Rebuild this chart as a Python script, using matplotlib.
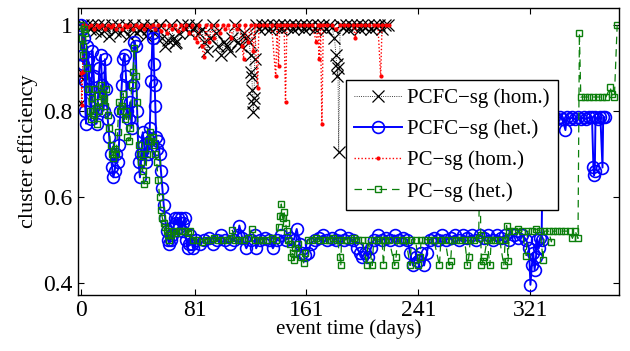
import matplotlib
matplotlib.use("Agg")
import matplotlib.pyplot as plt

plt.rcParams['font.family'] = ['Liberation Serif', 'DejaVu Serif']

# PCFC-sg (hom.)  black x, dotted
pcfc_hom_t = [0, 0.5, 1, 1.5, 4, 6, 8, 10, 12, 14, 16, 18, 20, 22, 24, 26, 28, 30, 32, 34,
              36, 38, 40, 42, 44, 46, 48, 50, 52, 54, 56, 58, 60, 62, 64, 66, 67, 68, 70, 72,
              74, 76, 78, 80, 82, 84, 86, 88, 90, 92, 94, 96, 98, 100, 102, 104, 106, 108, 110, 112,
              114, 116, 118, 120, 121, 121.5, 122, 122.3, 122.6, 123, 123.5, 124, 125, 127, 129, 131, 133, 135, 137, 139,
              141, 143, 145, 147, 149, 151, 153, 155, 157, 159, 161, 163, 165, 167, 169, 171, 173, 175, 177, 179,
              181, 182, 182.5, 183, 183.5, 184, 185, 187, 189, 191, 193, 195, 197, 199, 201, 203, 205, 207, 209, 211,
              213, 215, 217, 219]
pcfc_hom_v = [0.818, 0.887, 0.875, 1.0, 1.0, 0.99, 1.0, 0.985, 1.0, 0.98, 1.0, 0.99, 0.975, 1.0, 0.985, 1.0, 0.98, 0.99, 1.0, 0.975,
              0.99, 1.0, 0.98, 0.99, 1.0, 0.975, 0.99, 1.0, 0.98, 0.99, 1.0, 0.97, 0.95, 0.965, 1.0, 0.97, 0.957, 0.96, 0.98, 1.0,
              0.99, 1.0, 0.98, 0.99, 1.0, 0.98, 0.99, 0.96, 0.94, 0.97, 1.0, 0.98, 0.95, 0.93, 0.96, 0.95, 0.94, 0.97, 1.0, 0.96,
              0.95, 0.98, 0.97, 0.96, 0.93, 0.89, 0.878, 0.848, 0.818, 0.797, 0.83, 0.92, 1.0, 0.99, 1.0, 0.995, 1.0, 0.99, 1.0, 0.995,
              1.0, 0.99, 1.0, 0.995, 1.0, 0.99, 1.0, 0.995, 1.0, 0.99, 1.0, 0.995, 1.0, 0.99, 1.0, 0.995, 1.0, 0.99, 1.0, 0.995,
              0.97, 0.93, 0.91, 0.88, 0.90, 0.704, 1.0, 0.995, 1.0, 0.99, 1.0, 0.995, 1.0, 0.99, 1.0, 0.995, 1.0, 0.99, 1.0, 0.995,
              1.0, 0.99, 1.0, 1.0]

# PCFC-sg (het.)  blue o, solid
pcfc_het_t = [0, 0.5, 1, 1.5, 2, 2.5, 3, 3.5, 4, 5, 6, 7, 8, 9, 10, 11, 12, 13, 14, 15,
              16, 17, 18, 19, 20, 21, 22, 23, 24, 25, 26, 27, 28, 29, 30, 31, 32, 33, 34, 35,
              36, 37, 38, 39, 40, 41, 42, 43, 44, 45, 46, 47, 48, 49, 50, 51, 51.5, 52, 52.5, 53,
              53.5, 54, 55, 56, 57, 58, 59, 60, 61, 62, 63, 64, 65, 66, 67, 68, 69, 70, 71, 72,
              73, 74, 75, 76, 77, 78, 79, 80, 82, 85, 88, 91, 94, 97, 100, 103, 106, 109, 112, 113,
              115, 118, 121, 124, 125, 128, 131, 134, 137, 140, 143, 146, 149, 152, 154, 156, 158, 160, 162, 164,
              167, 170, 173, 176, 179, 182, 185, 188, 191, 194, 197, 199, 201, 203, 205, 207, 209, 212, 215, 218,
              221, 224, 227, 230, 233, 235, 237, 239, 241, 243, 245, 247, 249, 252, 255, 258, 261, 264, 267, 270,
              273, 276, 279, 282, 285, 288, 291, 294, 297, 300, 303, 306, 309, 312, 315, 318, 320, 321, 322, 323,
              324, 325, 326, 327, 328, 329, 330, 332, 334, 336, 338, 340, 342, 344, 346, 347, 349, 351, 353, 355,
              357, 359, 361, 363, 365, 366, 366.5, 367, 367.5, 369, 371, 372.5, 373, 374]
pcfc_het_v = [1.0, 0.99, 0.93, 0.91, 0.97, 0.87, 0.80, 0.77, 0.95, 0.92, 0.85, 0.78, 0.94, 0.88, 0.80, 0.77, 0.83, 0.90, 0.93, 0.86,
              0.80, 0.92, 0.85, 0.78, 0.74, 0.70, 0.67, 0.645, 0.66, 0.70, 0.68, 0.72, 0.80, 0.86, 0.92, 0.93, 0.88, 0.80, 0.78, 0.82,
              0.76, 0.86, 0.96, 0.95, 0.80, 0.68, 0.645, 0.70, 0.75, 0.72, 0.68, 0.74, 0.70, 0.76, 0.87, 0.98, 0.97, 0.91, 0.86, 0.81,
              0.74, 0.71, 0.73, 0.70, 0.66, 0.62, 0.58, 0.55, 0.52, 0.50, 0.49, 0.50, 0.51, 0.53, 0.55, 0.54, 0.55, 0.53, 0.55, 0.52,
              0.54, 0.55, 0.50, 0.48, 0.49, 0.51, 0.49, 0.48, 0.50, 0.49, 0.50, 0.505, 0.49, 0.50, 0.51, 0.50, 0.49, 0.50, 0.51, 0.533,
              0.505, 0.48, 0.50, 0.51, 0.48, 0.50, 0.505, 0.50, 0.48, 0.50, 0.51, 0.50, 0.505, 0.50, 0.525, 0.49, 0.47, 0.465, 0.47, 0.49,
              0.50, 0.505, 0.51, 0.50, 0.505, 0.50, 0.51, 0.50, 0.505, 0.50, 0.48, 0.47, 0.46, 0.47, 0.46, 0.48, 0.50, 0.51, 0.50, 0.505,
              0.50, 0.51, 0.50, 0.505, 0.50, 0.47, 0.44, 0.46, 0.45, 0.47, 0.44, 0.47, 0.50, 0.505, 0.50, 0.51, 0.50, 0.505, 0.51, 0.50,
              0.51, 0.505, 0.51, 0.50, 0.51, 0.505, 0.51, 0.50, 0.51, 0.505, 0.51, 0.50, 0.51, 0.505, 0.51, 0.50, 0.48, 0.395, 0.44, 0.47,
              0.43, 0.46, 0.50, 0.48, 0.505, 0.50, 0.785, 0.78, 0.785, 0.78, 0.785, 0.78, 0.785, 0.78, 0.755, 0.785, 0.78, 0.785, 0.78, 0.785,
              0.78, 0.785, 0.78, 0.785, 0.785, 0.67, 0.65, 0.66, 0.785, 0.78, 0.785, 0.668, 0.785, 0.785]

# PC-sg (hom.)  red dots, dotted
pc_hom_t = [0, 0.5, 1, 1.5, 3, 5, 7, 9, 11, 13, 15, 17, 19, 21, 23, 25, 27, 29, 31, 33,
            35, 37, 39, 41, 43, 45, 47, 49, 51, 53, 55, 57, 59, 61, 63, 65, 67, 69, 71, 73,
            75, 77, 79, 81, 83, 84, 86, 88, 89, 91, 93, 95, 97, 99, 101, 103, 105, 107, 109, 111,
            113, 115, 116, 117, 119, 121, 123, 124, 126, 127, 130, 133, 136, 139, 140, 141, 142, 145, 146, 147,
            150, 153, 156, 159, 162, 165, 168, 169, 170, 171, 172, 173, 176, 179, 182, 185, 188, 191, 194, 196,
            197, 200, 203, 206, 209, 212, 214, 215, 218, 220]
pc_hom_v = [0.887, 0.813, 0.89, 1.0, 1.0, 0.995, 1.0, 0.99, 1.0, 0.995, 1.0, 0.99, 1.0, 0.995, 1.0, 0.99, 1.0, 0.99, 1.0, 0.995,
            1.0, 0.99, 1.0, 0.995, 1.0, 0.99, 1.0, 0.995, 1.0, 0.99, 1.0, 0.985, 1.0, 0.98, 1.0, 0.99, 1.0, 0.985, 1.0, 0.99,
            1.0, 0.98, 1.0, 0.97, 0.96, 1.0, 0.95, 0.925, 1.0, 0.96, 1.0, 0.97, 1.0, 0.98, 1.0, 0.99, 1.0, 0.97, 1.0, 0.99,
            1.0, 0.95, 0.92, 1.0, 0.96, 1.0, 0.94, 1.0, 0.853, 1.0, 1.0, 1.0, 1.0, 0.88, 1.0, 0.905, 1.0, 1.0, 0.82, 1.0,
            1.0, 1.0, 1.0, 1.0, 1.0, 1.0, 0.96, 1.0, 0.92, 1.0, 0.77, 1.0, 1.0, 1.0, 0.99, 1.0, 1.0, 1.0, 1.0, 0.97,
            1.0, 1.0, 1.0, 1.0, 1.0, 1.0, 0.88, 1.0, 1.0, 1.0]

# PC-sg (het.)  green squares, dashed
pc_het_t = [0, 0.5, 1, 1.5, 2, 3, 4, 5, 6, 7, 8, 9, 10, 11, 12, 13, 14, 15, 16, 17,
            18, 19, 20, 21, 22, 23, 24, 25, 26, 27, 28, 29, 30, 31, 32, 33, 34, 35, 36, 37,
            38, 39, 40, 41, 42, 43, 44, 45, 46, 47, 48, 49, 50, 51, 52, 53, 54, 55, 56, 57,
            58, 59, 60, 61, 62, 63, 64, 66, 68, 70, 72, 74, 76, 78, 80, 83, 86, 89, 92, 95,
            98, 101, 104, 107, 108, 110, 113, 116, 119, 122, 124, 127, 130, 133, 136, 139, 141, 142, 143, 144,
            145, 146, 147, 148, 149, 150, 151, 152, 153, 155, 157, 159, 160, 162, 165, 168, 171, 174, 177, 180,
            183, 185, 185.5, 186, 189, 192, 195, 198, 201, 204, 205, 208, 209, 212, 215, 216, 217, 220, 224, 225,
            226, 229, 232, 235, 236, 239, 241, 242, 243, 246, 249, 252, 256, 257, 260, 263, 264, 265, 268, 271,
            274, 276, 277, 278, 281, 284, 285, 285.5, 286, 287, 288, 290, 292, 293, 296, 299, 302, 303, 304, 305,
            306, 309, 312, 315, 318, 319, 322, 325, 328, 330, 331, 334, 336, 337, 340, 343, 346, 349, 351, 353,
            355, 356, 357, 360, 363, 366, 369, 372, 375, 378, 379, 381, 383]
pc_het_v = [1.0, 0.97, 0.93, 0.95, 0.99, 0.98, 0.90, 0.85, 0.80, 0.78, 0.83, 0.79, 0.85, 0.77, 0.82, 0.80, 0.86, 0.84, 0.83, 0.81,
            0.85, 0.79, 0.76, 0.72, 0.70, 0.69, 0.71, 0.70, 0.75, 0.82, 0.80, 0.81, 0.84, 0.78, 0.80, 0.74, 0.73, 0.76, 0.86, 0.89,
            0.945, 0.88, 0.82, 0.72, 0.70, 0.68, 0.66, 0.63, 0.64, 0.70, 0.73, 0.75, 0.73, 0.74, 0.72, 0.70, 0.68, 0.64, 0.60, 0.57,
            0.55, 0.54, 0.53, 0.52, 0.51, 0.50, 0.51, 0.52, 0.515, 0.52, 0.52, 0.52, 0.515, 0.52, 0.50, 0.50, 0.495, 0.50, 0.50, 0.505,
            0.50, 0.50, 0.50, 0.505, 0.522, 0.50, 0.50, 0.50, 0.505, 0.526, 0.50, 0.50, 0.50, 0.50, 0.505, 0.50, 0.53, 0.555, 0.583, 0.55,
            0.565, 0.54, 0.52, 0.50, 0.49, 0.46, 0.47, 0.453, 0.48, 0.49, 0.46, 0.446, 0.47, 0.50, 0.50, 0.505, 0.50, 0.50, 0.50, 0.505,
            0.50, 0.46, 0.44, 0.50, 0.50, 0.50, 0.505, 0.50, 0.50, 0.44, 0.50, 0.44, 0.50, 0.50, 0.50, 0.44, 0.50, 0.50, 0.44, 0.46,
            0.50, 0.50, 0.50, 0.44, 0.50, 0.50, 0.44, 0.46, 0.50, 0.50, 0.50, 0.50, 0.44, 0.50, 0.50, 0.44, 0.45, 0.50, 0.50, 0.50,
            0.50, 0.44, 0.46, 0.50, 0.50, 0.505, 0.70, 0.51, 0.44, 0.45, 0.46, 0.50, 0.44, 0.50, 0.50, 0.50, 0.44, 0.50, 0.533, 0.45,
            0.52, 0.52, 0.525, 0.52, 0.463, 0.52, 0.52, 0.525, 0.52, 0.453, 0.52, 0.52, 0.495, 0.52, 0.52, 0.52, 0.52, 0.52, 0.503, 0.52,
            0.503, 0.98, 0.832, 0.832, 0.832, 0.832, 0.832, 0.832, 0.832, 0.855, 0.84, 0.832, 1.0]

labels = ['PCFC\u2212sg (hom.)', 'PCFC\u2212sg (het.)', 'PC\u2212sg (hom.)', 'PC\u2212sg (het.)']
xticks = [0, 81, 161, 241, 321]
yticks = [0.4, 0.6, 0.8, 1.0]
yticklabels = ['0.4', '0.6', '0.8', '1']

fig = plt.figure(figsize=(6.3, 3.51), dpi=100)
ax = fig.add_axes([0.1233, 0.1604, 0.8597, 0.8166])

ax.plot(pcfc_hom_t, pcfc_hom_v, color='black', linestyle=':', linewidth=0.6,
        marker='x', markersize=8, markeredgewidth=0.9, label=labels[0])
ax.plot(pcfc_het_t, pcfc_het_v, color='blue', linestyle='-', linewidth=1.4,
        marker='o', markersize=8.5, markerfacecolor='none', markeredgewidth=1.2, label=labels[1])
ax.plot(pc_hom_t, pc_hom_v, color='red', linestyle=(0, (1, 1.5)), linewidth=1.0,
        marker='.', markersize=4, label=labels[2])
ax.plot(pc_het_t, pc_het_v, color='#0b7f0b', linestyle=(0, (6, 4)), linewidth=0.9,
        marker='s', markersize=4, markerfacecolor='none', markeredgewidth=1.0, label=labels[3])

ax.set_xlim(-2.5, 384.5)
ax.set_ylim(0.372, 1.039)
ax.set_xticks(xticks)
ax.set_xticklabels([str(t) for t in xticks])
ax.set_yticks(yticks)
ax.set_yticklabels(yticklabels)
ax.tick_params(direction='in', top=True, right=True, labelsize=17, length=4, width=0.8)
for s in ax.spines.values():
    s.set_linewidth(1.0)

ax.set_xlabel('event time (days)', fontsize=15, labelpad=-1)
ax.set_ylabel('cluster efficiency', fontsize=16, labelpad=4)

leg = ax.legend(loc='upper right', bbox_to_anchor=(0.887, 0.749), fontsize=15,
                frameon=True, fancybox=False, framealpha=1, edgecolor='black',
                borderaxespad=0, handlelength=2.3, handletextpad=0.25,
                labelspacing=0.55, borderpad=0.4)
leg.get_frame().set_linewidth(1.0)

fig.savefig('out.png', dpi=100)
